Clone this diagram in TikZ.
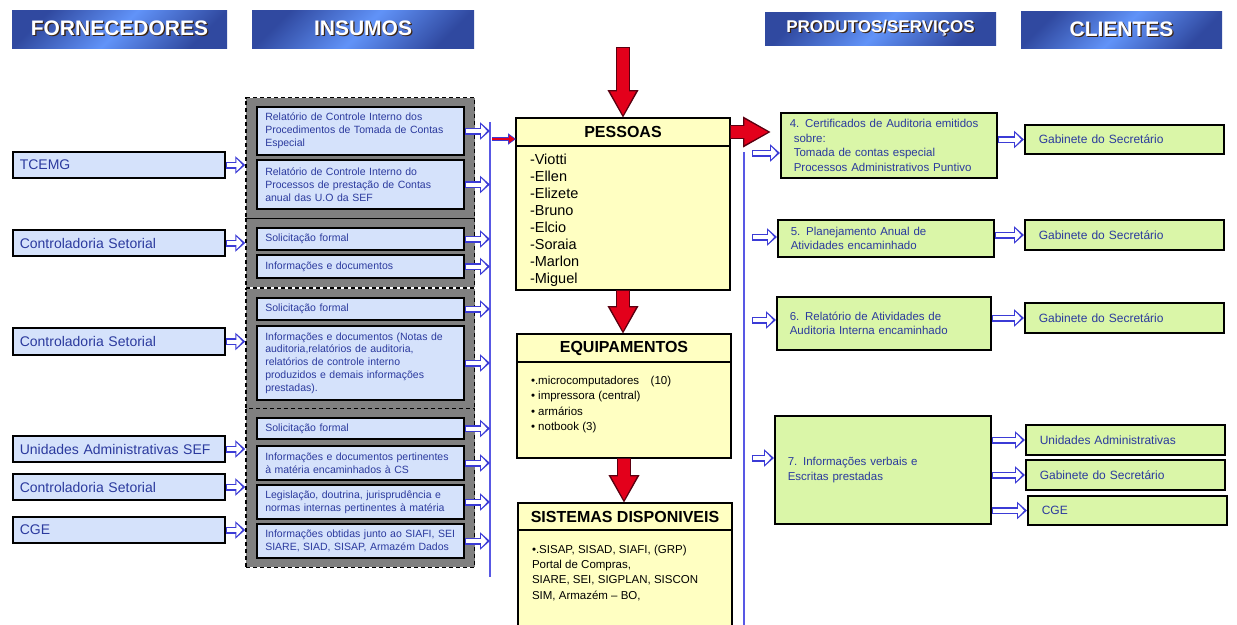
\documentclass[tikz,border=0pt]{standalone}
\usepackage{fontspec}
\setmainfont{Liberation Sans}
\usepackage{xcolor}
\definecolor{headlight}{HTML}{6193F8}
\definecolor{headdark}{HTML}{3049A0}
\definecolor{headshadow}{HTML}{3A2414}
\definecolor{boxblue}{HTML}{D5E2FB}
\definecolor{boxyellow}{HTML}{FFFFC2}
\definecolor{boxgreen}{HTML}{DAF6A8}
\definecolor{grpgray}{HTML}{808080}
\definecolor{textblue}{HTML}{2B3A9E}
\definecolor{arrowblue}{HTML}{3B3BD6}
\definecolor{lineblue}{HTML}{5858E4}
\definecolor{arrowred}{HTML}{E3001B}
\definecolor{arrowdark}{HTML}{5A0010}
\usepackage{tikz}
\usetikzlibrary{arrows.meta,positioning,fit,backgrounds,calc}

\newcommand{\headtext}[1]{\makebox[0pt][l]{\hspace{1.3pt}\raisebox{-1.3pt}{\textcolor{headshadow}{#1}}}#1}

\begin{document}
\begin{tikzpicture}[x=1pt, y=-1pt,
    head/.style={rectangle, top color=headdark, bottom color=headdark, middle color=headlight, shading angle=45, text=white, inner sep=0pt, font=\bfseries\fontsize{21}{21}\selectfont},
    sup/.style={rectangle, draw=black, line width=1.6pt, fill=boxblue, text=textblue, anchor=west, minimum height=26pt, inner xsep=7pt, text width=198pt, align=left, font=\fontsize{14}{16}\selectfont},
    inbox/.style={rectangle, draw=black, line width=1.6pt, fill=boxblue, text=textblue, anchor=west, inner xsep=8.5pt, inner ysep=2pt, text width=190pt, align=left, font=\fontsize{10.5}{12.8}\selectfont},
    grp/.style={rectangle, draw=black, line width=1.5pt, dash pattern=on 4pt off 3pt, fill=grpgray, inner xsep=10pt, inner ysep=8.5pt},
    midhead/.style={rectangle, draw=black, line width=1.6pt, fill=boxyellow, outer sep=0pt, minimum width=214pt, minimum height=28pt, inner sep=0pt, font=\bfseries\fontsize{16}{16}\selectfont},
    midbody/.style={rectangle, draw=black, line width=1.6pt, fill=boxyellow, outer sep=0pt, inner xsep=14pt},
    prod/.style={rectangle, draw=black, line width=1.6pt, fill=boxgreen, text=textblue, anchor=west, inner xsep=13pt, text width=190pt, align=left, font=\fontsize{11.5}{14.5}\selectfont},
    cli/.style={rectangle, draw=black, line width=1.6pt, fill=boxgreen, text=textblue, anchor=west, minimum height=29pt, inner xsep=14pt, text width=171pt, align=left, font=\fontsize{12}{14}\selectfont},
    hollow/.style={white, line width=4pt, shorten <=1.4pt, shorten >=2.8pt, -{Triangle[length=6pt, width=12pt]},
      preaction={draw=arrowblue, line width=7pt, shorten <=0pt, shorten >=0pt, -{Triangle[length=10pt, width=17pt]}}},
    redarr/.style={arrowred, line width=12pt, shorten <=1.2pt, shorten >=2.6pt, -{Triangle[length=24pt, width=24pt]},
      preaction={draw=arrowdark, line width=14.5pt, shorten <=0pt, shorten >=0pt, -{Triangle[length=28pt, width=29pt]}}},
    redsmall/.style={arrowred, line width=2.4pt, shorten >=1.2pt, -{Triangle[length=6pt, width=7.5pt]},
      preaction={draw=arrowblue, line width=4pt, shorten >=0pt, -{Triangle[length=8pt, width=11pt]}}},
    vline/.style={lineblue, line width=1.5pt},
  ]
    \useasboundingbox (0,0) rectangle (1237,624);

    % Headers
    \node[head, minimum width=215pt, minimum height=38pt] (hfor) at (119.5,29) {\headtext{FORNECEDORES}};
    \node[head, minimum width=222pt, minimum height=38pt] (hins) at (363,29) {\headtext{INSUMOS}};
    \node[head, minimum width=231pt, minimum height=33pt, font=\bfseries\fontsize{17}{17}\selectfont] (hprod) at (880.5,28.5) {\headtext{PRODUTOS/SERVIÇOS}};
    \node[head, minimum width=201pt, minimum height=37pt] (hcli) at (1121.5,29.5) {\headtext{CLIENTES}};

    % Fornecedores
    \node[sup] (ftce) at (12,165) {TCEMG};
    \node[sup] (fcs1) at (12,243) {Controladoria Setorial};
    \node[sup, minimum height=27pt] (fcs2) at (12,341.5) {Controladoria Setorial};
    \node[sup] (fuad) at (12,449) {Unidades Administrativas SEF};
    \node[sup] (fcs3) at (12,487) {Controladoria Setorial};
    \node[sup] (fcge) at (12,530) {CGE};

    % Insumos
    \node[inbox, minimum height=48pt] (i11) at (256,131) {Relatório de Controle Interno dos\\Procedimentos de Tomada de Contas\\Especial};
    \node[inbox, minimum height=49pt] (i12) at (256,184.5) {Relatório de Controle Interno do\\Processos de prestação de Contas\\anual das U.O da SEF};
    \node[inbox, minimum height=22pt] (i21) at (256,239) {Solicitação formal};
    \node[inbox, minimum height=23pt] (i22) at (256,266.5) {Informações e documentos};
    \node[inbox, minimum height=22pt] (i31) at (256,309) {Solicitação formal};
    \node[inbox, minimum height=74pt] (i32) at (256,363) {Informações e documentos (Notas de\\auditoria,relatórios de auditoria,\\relatórios de controle interno\\produzidos e demais informações\\prestadas).};
    \node[inbox, minimum height=21pt] (i41) at (256,428.5) {Solicitação formal};
    \node[inbox, minimum height=34pt] (i42) at (256,463) {Informações e documentos pertinentes\\à matéria encaminhados à CS};
    \node[inbox, minimum height=34pt] (i43) at (256,502) {Legislação, doutrina, jurisprudência e\\normas internas pertinentes à matéria};
    \node[inbox, minimum height=34pt] (i44) at (256,541) {Informações obtidas junto ao SIAFI, SEI\\SIARE, SIAD, SISAP, Armazém Dados};

    \begin{scope}[on background layer]
      \node[grp, fit=(i11)(i12)] (g1) {};
      \node[grp, fit=(i21)(i22)] (g2) {};
      \node[grp, fit=(i31)(i32)] (g3) {};
      \node[grp, fit=(i41)(i44)] (g4) {};
    \end{scope}

    % Pessoas, equipamentos, sistemas
    \node[midhead] (pes) at (623,132) {PESSOAS};
    \node[midbody, below=0pt of pes, inner ysep=8pt] (pesb) {\parbox[c][128pt][t]{186pt}{\fontsize{14.5}{17}\selectfont\raggedright
      -Viotti\\-Ellen\\-Elizete\\-Bruno\\-Elcio\\-Soraia\\-Marlon\\-Miguel}};
    \node[midhead] (eq) at (624,348) {EQUIPAMENTOS};
    \node[midbody, below=0pt of eq, inner ysep=14pt] (eqb) {\parbox[c][68pt][t]{186pt}{\fontsize{11.5}{15.5}\selectfont\raggedright
      •.microcomputadores\quad (10)\\• impressora (central)\\• armários\\• notbook (3)}};
    \node[midhead, minimum height=27pt] (sis) at (625,516.5) {SISTEMAS DISPONIVEIS};
    \node[midbody, below=0pt of sis, inner ysep=15pt] (sisb) {\parbox[c][72pt][t]{186pt}{\fontsize{11.5}{15.3}\selectfont\raggedright
      •.SISAP, SISAD, SIAFI, (GRP)\\Portal de Compras,\\SIARE, SEI, SIGPLAN, SISCON\\SIM, Armazém – BO,}};

    % Produtos / servicos
    \node[prod, minimum height=65pt, inner xsep=9pt, text width=198pt] (p4) at (780,145.5) {4. Certificados de Auditoria emitidos\\\hspace*{4pt}sobre:\\\hspace*{4pt}Tomada de contas especial\\\hspace*{4pt}Processos Administrativos Puntivo};
    \node[prod, minimum height=37pt] (p5) at (777,238.5) {5. Planejamento Anual de\\Atividades encaminhado};
    \node[prod, minimum height=53pt, text width=188pt] (p6) at (776,323.5) {6. Relatório de Atividades de\\Auditoria Interna encaminhado};
    \node[prod, minimum height=108pt] (p7) at (774,470) {7. Informações verbais e\\Escritas prestadas};

    % Clientes
    \node[cli] (c1) at (1024,139.5) {Gabinete do Secretário};
    \node[cli, minimum height=30pt] (c2) at (1024,235) {Gabinete do Secretário};
    \node[cli, minimum height=30pt] (c3) at (1024,318) {Gabinete do Secretário};
    \node[cli, minimum height=30pt] (c4) at (1025,440) {Unidades Administrativas};
    \node[cli, minimum height=30pt] (c5) at (1025,475) {Gabinete do Secretário};
    \node[cli] (c6) at (1027,510.5) {CGE};

    % Linhas de ligacao
    \coordinate (vtop) at (490,122);
    \coordinate (vbot) at (490,577);
    \coordinate (vin) at (492,139);
    \coordinate (rtop) at (744,152);
    \coordinate (rbot) at (744,630);
    \coordinate (rin) at (623,47);
    \coordinate (rout) at (771,132);
    \coordinate (o4) at (752,153);
    \coordinate (o5) at (752,237);
    \coordinate (o6) at (752,320);
    \coordinate (o7) at (752,458);

    \draw[vline] (vtop) -- (vbot);
    \draw[vline] (rtop) -- (rbot);

    \draw[hollow] (ftce.east) -- (ftce.east -| g1.west);
    \draw[hollow] (fcs1.east) -- (fcs1.east -| g2.west);
    \draw[hollow] (fcs2.east) -- (fcs2.east -| g3.west);
    \draw[hollow] (fuad.east) -- (fuad.east -| g4.west);
    \draw[hollow] (fcs3.east) -- (fcs3.east -| g4.west);
    \draw[hollow] (fcge.east) -- (fcge.east -| g4.west);

    \foreach \i in {i11,i12,i21,i22,i31,i32,i41,i42,i43,i44}
      \draw[hollow] (\i.east) -- (\i.east -| vtop);

    \draw[redsmall] (vin) -- (vin -| pes.west);
    \draw[redarr] (rin) -- (pes.north);
    \draw[redarr] (pesb.south) -- (pesb.south |- eq.north);
    \draw[redarr] (eqb.south) -- (eqb.south |- sis.north);
    \draw[redarr] (pes.east) -- (rout);

    \draw[hollow] (o4) -- (o4 -| p4.west);
    \draw[hollow] (o5) -- (o5 -| p5.west);
    \draw[hollow] (o6) -- (o6 -| p6.west);
    \draw[hollow] (o7) -- (o7 -| p7.west);

    \draw[hollow] (p4.east |- c1.west) -- (c1.west);
    \draw[hollow] (p5.east |- c2.west) -- (c2.west);
    \draw[hollow] (p6.east |- c3.west) -- (c3.west);
    \draw[hollow] (p7.east |- c4.west) -- (c4.west);
    \draw[hollow] (p7.east |- c5.west) -- (c5.west);
    \draw[hollow] (p7.east |- c6.west) -- (c6.west);
  \end{tikzpicture}
\end{document}
